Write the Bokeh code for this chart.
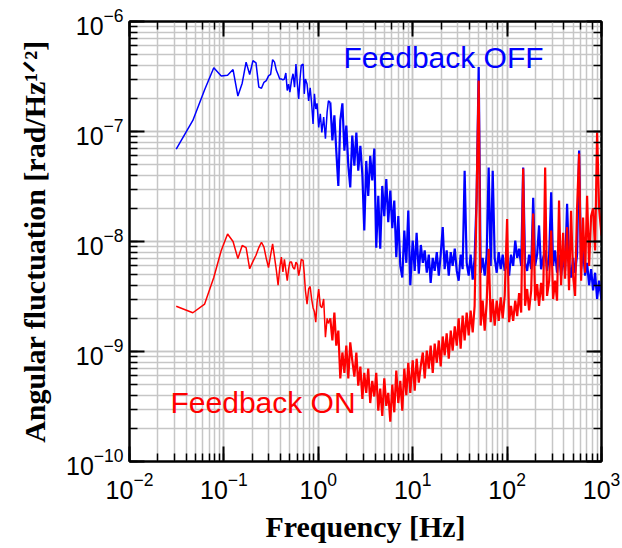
from bokeh.plotting import figure
from bokeh.models import Range1d, LogAxis, Label, CustomJSTickFormatter, ColumnDataSource
from bokeh.embed import file_html
from bokeh.resources import INLINE

# ---------------- data ----------------
freq_low = [0.03125, 0.046875, 0.0625, 0.078125, 0.09375, 0.109375, 0.125, 0.140625,
            0.15625, 0.171875, 0.1875, 0.203125, 0.21875, 0.234375, 0.25, 0.265625,
            0.28125, 0.296875, 0.3125, 0.328125, 0.34375, 0.359375, 0.375, 0.390625,
            0.40625, 0.421875, 0.4375, 0.453125, 0.46875, 0.484375, 0.5]
freq_mid = [0.52, 0.54, 0.56, 0.58, 0.60, 0.62, 0.64, 0.66, 0.69, 0.71, 0.73, 0.76, 0.79,
            0.82, 0.85, 0.88, 0.91, 0.94, 0.97, 1.01, 1.05, 1.09, 1.14, 1.19, 1.24, 1.28]
freq_d1 = [1.34, 1.41, 1.48, 1.55, 1.63, 1.71, 1.80, 1.89, 1.98, 2.08, 2.18, 2.29, 2.41,
           2.53, 2.65, 2.79, 2.93, 3.07, 3.22, 3.38, 3.55, 3.73, 3.92, 4.11, 4.32, 4.53,
           4.76, 5.00, 5.25, 5.51, 5.79, 6.08, 6.38, 6.70, 7.04, 7.39, 7.76, 8.15, 8.56,
           8.98, 9.43]
freq_d2 = [10.0, 10.5, 11.0, 11.6, 12.2, 12.8, 13.4, 14.1, 14.8, 15.5, 16.3, 17.1, 18.0,
           18.9, 19.8, 20.8, 21.8, 22.9, 24.1, 25.3, 26.5, 27.9, 29.3, 30.7, 32.2, 33.8,
           35.5, 37.3, 39.2, 41.1, 43.2, 45.3, 47.6, 50.0, 52.5, 55.1, 57.9, 60.8, 63.8,
           67.0, 70.4, 73.9, 77.6, 81.5, 85.6, 89.8, 94.3]
freq_d3 = [100, 105, 110, 116, 122, 128, 134, 141, 148, 155, 163, 171, 180, 189, 198, 208,
           218, 229, 241, 253, 265, 279, 293, 307, 322, 338, 355, 373, 392, 411, 432, 453,
           476, 500, 525, 551, 579, 608, 638, 670, 704, 739, 776, 815, 856, 898, 943, 1000]

off_low = [6.9e-8, 1.26e-7, 2.4e-7, 3.8e-7, 3.2e-7, 3.25e-7, 3.66e-7, 2.1e-7, 2.75e-7,
           4.27e-7, 3.3e-7, 4.4e-7, 4.2e-7, 2.53e-7, 2.47e-7, 2.8e-7, 2.9e-7, 3.2e-7,
           3.3e-7, 4.5e-7, 4.27e-7, 3.6e-7, 3.3e-7, 3.0e-7, 3.0e-7, 2.95e-7, 3.0e-7,
           3.4e-7, 2.36e-7, 2.7e-7, 2.28e-7]
off_mid = [2.9e-7, 3.35e-7, 2.53e-7, 4.1e-7, 2.7e-7, 1.98e-7, 3.0e-7, 4.0e-7, 4.1e-7,
           2.2e-7, 3.0e-7, 2.7e-7, 1.9e-7, 2.5e-7, 1.8e-7, 1.17e-7, 2.2e-7, 1.6e-7, 1.8e-7,
           1.09e-7, 1.45e-7, 9.8e-8, 1.35e-7, 8.6e-8, 1.5e-7, 1.9e-7]
off_d1 = [1.84e-7, 8.3e-8, 1.4e-7, 6.7e-8, 3.2e-8, 1.26e-7, 1.8e-7, 6.7e-8, 1.13e-7, 4.9e-8,
          3.1e-8, 9.2e-8, 4.9e-8, 9.8e-8, 4.4e-8, 7.4e-8, 4.0e-8, 1.26e-8, 5.4e-8, 2.6e-8,
          6.0e-8, 3.6e-8, 7.0e-8, 8.8e-9, 2.6e-8, 8.6e-9, 3.2e-8, 1.7e-8, 3.7e-8, 1.5e-8,
          2.9e-8, 1.32e-8, 2.36e-8, 7.2e-9, 1.7e-8, 6.0e-9, 4.7e-9, 1.26e-8, 6.4e-9, 1.91e-8,
          4.0e-9]
off_d2 = [1.02e-8, 5.4e-9, 1.2e-8, 5.1e-9, 9.3e-9, 6.4e-9, 8.3e-9, 5.2e-9, 7.6e-9, 4.2e-9,
          7.1e-9, 5.4e-9, 8.0e-9, 4.9e-9, 7.6e-9, 1.35e-8, 5.6e-9, 8.3e-9, 4.9e-9, 8.0e-9,
          6.0e-9, 8.6e-9, 5.4e-9, 4.4e-9, 7.6e-9, 5.6e-9, 4.4e-8, 6.4e-9, 4.9e-9, 7.6e-9,
          4.5e-9, 7.1e-9, 2.6e-8, 3.85e-7, 5.2e-9, 7.1e-9, 4.9e-9, 7.6e-9, 4.7e-8, 6.0e-9,
          4.4e-8, 7.1e-9, 5.2e-9, 8.0e-9, 5.6e-9, 7.6e-9, 5.4e-9]
off_d3 = [6.4e-9, 4.9e-9, 7.6e-9, 6.0e-9, 1.02e-8, 7.1e-9, 8.6e-9, 6.0e-9, 4.7e-8, 6.4e-9,
          5.4e-9, 7.6e-9, 5.6e-9, 2.5e-8, 6.0e-9, 7.6e-9, 1.4e-8, 5.6e-9, 7.1e-9, 8.3e-9,
          5.4e-9, 7.6e-9, 2.8e-8, 6.0e-9, 8.3e-9, 5.2e-9, 7.6e-9, 4.9e-9, 7.1e-9, 5.4e-9,
          2.2e-8, 6.4e-9, 4.7e-9, 7.1e-9, 5.2e-9, 7.6e-9, 6.7e-8, 5.6e-9, 8.3e-9, 4.9e-9,
          6.4e-9, 4.0e-9, 5.6e-9, 3.6e-9, 5.2e-9, 3.0e-9, 4.4e-9, 2.9e-9]

on_low = [2.58e-9, 2.25e-9, 2.7e-9, 4.7e-9, 8.3e-9, 1.17e-8, 1.0e-8, 7.0e-9, 9.2e-9,
          8.8e-9, 5.65e-9, 6.6e-9, 7.5e-9, 8.8e-9, 9.85e-9, 8.9e-9, 7.0e-9, 5.8e-9,
          7.5e-9, 9.5e-9, 7.2e-9, 5.5e-9, 4.0e-9, 5.8e-9, 7.2e-9, 5.3e-9, 6.9e-9,
          5.5e-9, 4.4e-9, 5.6e-9, 6.5e-9]
on_mid = [6.5e-9, 5.8e-9, 5.6e-9, 6.5e-9, 6.2e-9, 4.9e-9, 5.6e-9, 6.9e-9, 6.7e-9, 5.1e-9,
          3.6e-9, 2.7e-9, 3.7e-9, 3.9e-9, 3.0e-9, 2.5e-9, 2.3e-9, 1.85e-9, 2.8e-9, 3.7e-9,
          2.6e-9, 2.5e-9, 3.0e-9, 1.35e-9, 2.0e-9, 1.8e-9]
on_d1 = [2.0e-9, 1.26e-9, 2.26e-9, 1.13e-9, 1.55e-9, 5.7e-10, 9.8e-10, 6.4e-10, 1.13e-9, 5.7e-10,
         1.21e-9, 8.3e-10, 5.9e-10, 9.8e-10, 4.9e-10, 7.3e-10, 3.7e-10, 6.4e-10, 4.2e-10, 7.0e-10,
         3.4e-10, 5.4e-10, 3.9e-10, 6.4e-10, 2.9e-10, 4.6e-10, 2.6e-10, 5.7e-10, 3.2e-10, 4.2e-10,
         2.3e-10, 5.0e-10, 2.8e-10, 6.7e-10, 3.4e-10, 5.4e-10, 2.9e-10, 7.0e-10, 4.0e-10, 7.9e-10,
         4.2e-10]
on_d2 = [8.3e-10, 4.4e-10, 8.6e-10, 5.2e-10, 7.5e-10, 9.8e-10, 5.7e-10, 1.02e-9, 7.0e-10, 1.13e-9,
         6.4e-10, 1.18e-9, 7.9e-10, 1.26e-9, 7.3e-10, 1.37e-9, 9.2e-10, 1.46e-9, 8.6e-10, 1.55e-9,
         1.02e-9, 1.69e-9, 1.13e-9, 2.0e-9, 1.06e-9, 2.12e-9, 1.26e-9, 2.26e-9, 1.4e-9, 2.36e-9,
         1.49e-9, 2.6e-9, 2.7e-8, 2.9e-7, 1.72e-9, 2.9e-9, 1.55e-9, 2.8e-9, 8.6e-9, 1.85e-9,
         3.0e-9, 1.72e-9, 2.9e-9, 1.9e-9, 3.1e-9, 2.0e-9, 3.2e-9]
on_d3 = [1.6e-8, 1.85e-9, 2.6e-9, 1.9e-9, 2.9e-9, 2.1e-9, 3.4e-9, 2.26e-9, 4.6e-8, 2.6e-9,
         3.7e-9, 2.36e-9, 3.6e-9, 1.8e-8, 2.9e-9, 4.1e-9, 2.6e-9, 4.2e-9, 2.9e-9, 4.7e-8,
         3.2e-9, 4.4e-9, 1.26e-8, 3.0e-9, 4.4e-9, 2.9e-9, 2.36e-8, 4.0e-9, 1.2e-8, 4.6e-9,
         1.35e-8, 3.6e-9, 1.9e-8, 4.9e-9, 3.2e-9, 2.0e-8, 6.3e-8, 4.4e-9, 1.65e-8, 5.2e-9,
         2.6e-8, 6.0e-9, 1.7e-8, 2.0e-8, 8.3e-9, 9.8e-8, 2.0e-8, 1.13e-8]

freq = freq_low + freq_mid + freq_d1 + freq_d2 + freq_d3
feedback_off = off_low + off_mid + off_d1 + off_d2 + off_d3
feedback_on = on_low + on_mid + on_d1 + on_d2 + on_d3

x_label = "Frequency [Hz]"
y_label = "Angular fluctuation [rad/Hz\u00b9\u141f\u00b2]"

# ---------------- figure ----------------
p = figure(width=622, height=548, x_axis_type="log", y_axis_type="log",
           x_range=Range1d(1e-2, 1e3), y_range=Range1d(1e-10, 1e-6),
           output_backend="svg", toolbar_location=None,
           min_border_left=129, min_border_right=21, min_border_top=21,
           min_border_bottom=87)
p.background_fill_color = "white"
p.border_fill_color = "white"
p.outline_line_color = "black"
p.outline_line_width = 2

GRID = "#c6c6c6"
p.grid.grid_line_color = GRID
p.grid.grid_line_width = 1.5
p.grid.minor_grid_line_color = GRID
p.grid.minor_grid_line_width = 1.5


def style_axis(ax):
    ax.major_tick_in = 15
    ax.major_tick_out = 0
    ax.minor_tick_in = 8
    ax.minor_tick_out = 0
    ax.major_tick_line_color = "black"
    ax.major_tick_line_width = 2
    ax.minor_tick_line_color = "black"
    ax.minor_tick_line_width = 1.5
    ax.axis_line_color = "black"
    ax.axis_line_width = 2
    ax.major_label_text_font = "Liberation Sans"
    ax.major_label_text_font_size = "25px"
    ax.major_label_text_color = "black"
    ax.axis_label_text_font = "Liberation Serif"
    ax.axis_label_text_font_style = "bold"
    ax.axis_label_text_font_size = "30px"
    ax.axis_label_text_color = "black"


for ax in p.xaxis + p.yaxis:
    style_axis(ax)
p.xaxis.major_label_standoff = 10
p.yaxis.major_label_standoff = 6
p.xaxis.axis_label = x_label
p.xaxis.axis_label_standoff = 8
p.yaxis.axis_label = y_label
p.yaxis.axis_label_standoff = 12

top = LogAxis(formatter=CustomJSTickFormatter(code="return ''"))
right = LogAxis(formatter=CustomJSTickFormatter(code="return ''"))
style_axis(top)
style_axis(right)
p.add_layout(top, "above")
p.add_layout(right, "right")

# sparse low-frequency part drawn thin, dense noisy part a little heavier
n_sparse = len(freq_low) + len(freq_mid)
src_lo = ColumnDataSource(dict(f=freq[:n_sparse + 1], off=feedback_off[:n_sparse + 1],
                               on=feedback_on[:n_sparse + 1]))
src_hi = ColumnDataSource(dict(f=freq[n_sparse:], off=feedback_off[n_sparse:],
                               on=feedback_on[n_sparse:]))
p.line("f", "off", source=src_lo, line_color="#0000ff", line_width=1.5)
p.line("f", "off", source=src_hi, line_color="#0000ff", line_width=2.2)
p.line("f", "on", source=src_lo, line_color="#ff0000", line_width=1.5)
p.line("f", "on", source=src_hi, line_color="#ff0000", line_width=2.2)

p.add_layout(Label(x=1.85, y=4.7e-7, text="Feedback OFF", text_color="#0000ff",
                   text_font="Liberation Sans", text_font_size="30px",
                   text_baseline="alphabetic", text_align="left"))
p.add_layout(Label(x=0.0272, y=3.44e-10, text="Feedback ON", text_color="#ff0000",
                   text_font="Liberation Sans", text_font_size="30px",
                   text_baseline="alphabetic", text_align="left"))

open("out.html", "w").write(file_html(p, INLINE))
